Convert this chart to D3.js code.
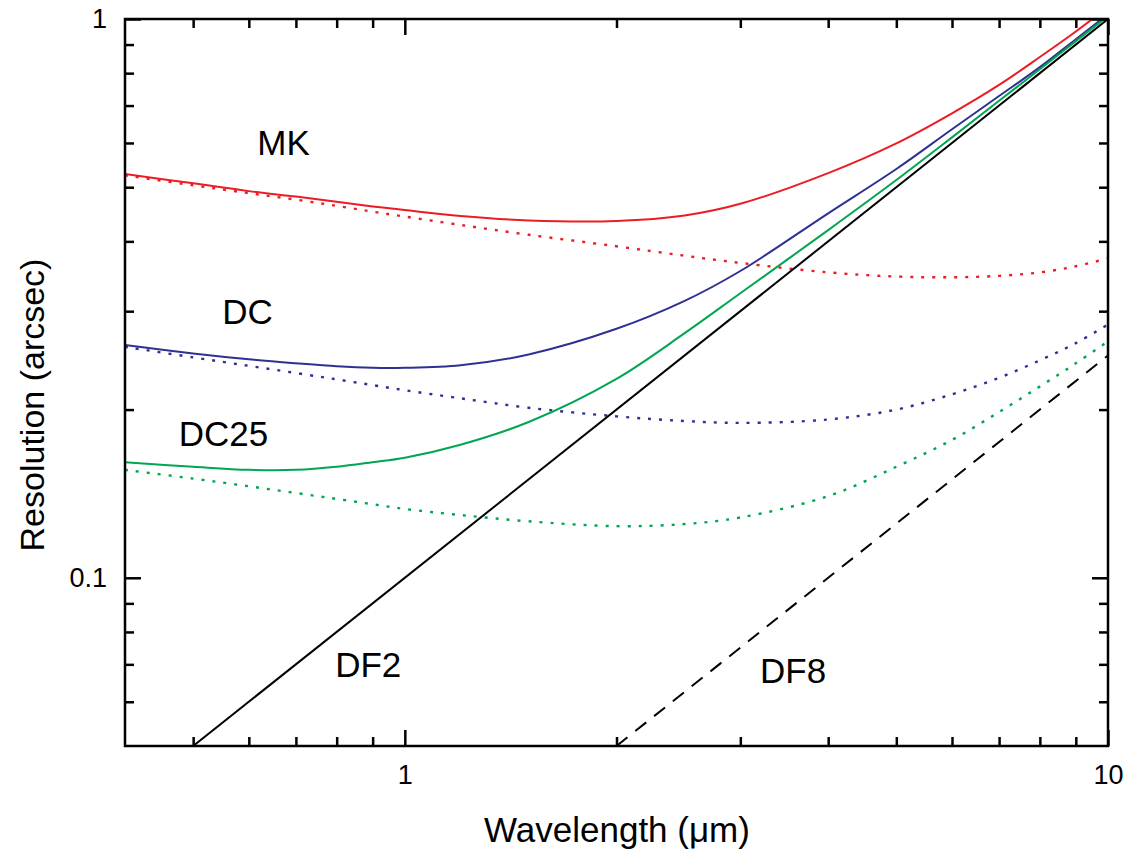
<!DOCTYPE html>
<html>
<head>
<meta charset="utf-8">
<script src="https://cdn.jsdelivr.net/npm/d3@7"></script>
<style>
  html, body { margin: 0; padding: 0; background: #fff; }
  svg { display: block; font-family: "Liberation Sans", Arial, Helvetica, sans-serif; }
</style>
</head>
<body>
<svg id="chart" width="1129" height="856"></svg>
<script>
// ---- data ----
const wavelengths = [0.4, 0.5, 0.6, 0.7, 0.8, 0.9, 1, 1.2, 1.5, 2, 2.5, 3, 4, 5, 6, 7, 8, 9, 10];
const mkTotal   = [0.528, 0.508, 0.492, 0.481, 0.471, 0.462, 0.455, 0.444, 0.436, 0.435, 0.445, 0.467, 0.530, 0.599, 0.678, 0.762, 0.855, 0.950, 1.050];
const mkSeeing  = [0.525, 0.504, 0.488, 0.475, 0.463, 0.452, 0.443, 0.428, 0.411, 0.392, 0.377, 0.366, 0.352, 0.346, 0.345, 0.347, 0.352, 0.361, 0.373];
const dcTotal   = [0.261, 0.252, 0.246, 0.242, 0.239, 0.2375, 0.2375, 0.240, 0.251, 0.279, 0.313, 0.354, 0.449, 0.539, 0.635, 0.728, 0.820, 0.920, 1.020];
const dcSeeing  = [0.259, 0.248, 0.2395, 0.2325, 0.2265, 0.2212, 0.2166, 0.2095, 0.2015, 0.1945, 0.1908, 0.1893, 0.192, 0.200, 0.213, 0.228, 0.245, 0.263, 0.284];
const dc25Total = [0.161, 0.158, 0.156, 0.156, 0.158, 0.161, 0.164, 0.173, 0.190, 0.227, 0.274, 0.323, 0.419, 0.515, 0.614, 0.714, 0.813, 0.913, 1.012];
const dc25Seeing= [0.156, 0.1505, 0.1458, 0.1418, 0.1384, 0.1354, 0.1328, 0.1295, 0.1262, 0.1237, 0.1248, 0.1282, 0.140, 0.158, 0.1765, 0.198, 0.220, 0.242, 0.265];
const df2Lambda = [0.5, 10];
const df2Values = [0.05, 1.0];
const df8Lambda = [2, 10];
const df8Values = [0.05, 0.25];

const xMajorTicks = [1, 10];
const xMinorTicks = [0.5, 0.6, 0.7, 0.8, 0.9, 2, 3, 4, 5, 6, 7, 8, 9];
const yMajorTicks = [0.1, 1];
const yMinorTicks = [0.06, 0.07, 0.08, 0.09, 0.2, 0.3, 0.4, 0.5, 0.6, 0.7, 0.8, 0.9];

const curveLabels = [
  {text: "MK",   lam: 0.617, val: 0.571},
  {text: "DC",   lam: 0.550, val: 0.2847},
  {text: "DC25", lam: 0.477, val: 0.1722},
  {text: "DF2",  lam: 0.796, val: 0.0665},
  {text: "DF8",  lam: 3.20,  val: 0.0649}
];

// ---- layout ----
const L = 125, R = 1108, T = 19, B = 746;
const svg = d3.select("#chart");
const x = d3.scaleLog().domain([0.4, 10]).range([L, R]);
const y = d3.scaleLog().domain([0.05, 1]).range([B, T]);

svg.append("defs").append("clipPath").attr("id", "plotclip")
  .append("rect").attr("x", L).attr("y", T).attr("width", R - L).attr("height", B - T);

const plot = svg.append("g").attr("clip-path", "url(#plotclip)");
const line = d3.line().x(d => x(d[0])).y(d => y(d[1])).curve(d3.curveCatmullRom.alpha(0.5));
const zip = (a, b) => a.map((v, i) => [v, b[i]]);

const red = "#ec1c24", blue = "#2e3192", green = "#00a651";
const dots = "3,8";
const series = [
  {vals: mkSeeing,   color: red,   dash: dots},
  {vals: dcSeeing,   color: blue,  dash: dots},
  {vals: dc25Seeing, color: green, dash: dots},
  {vals: mkTotal,    color: red,   dash: null},
  {vals: dcTotal,    color: blue,  dash: null},
  {vals: dc25Total,  color: green, dash: null}
];
series.forEach(s => {
  plot.append("path").datum(zip(wavelengths, s.vals))
    .attr("d", line).attr("fill", "none")
    .attr("stroke", s.color).attr("stroke-width", s.dash ? 2.4 : 2)
    .attr("stroke-dasharray", s.dash);
});
plot.append("path").datum(zip(df8Lambda, df8Values)).attr("d", line)
  .attr("fill", "none").attr("stroke", "#000").attr("stroke-width", 2)
  .attr("stroke-dasharray", "14,10");
plot.append("path").datum(zip(df2Lambda, df2Values)).attr("d", line)
  .attr("fill", "none").attr("stroke", "#000").attr("stroke-width", 2);

// ---- axes (ticks inward on all four sides) ----
function styleAxis(g) {
  g.select(".domain").remove();
  g.selectAll(".tick line").attr("stroke", "#000").attr("stroke-width", 2.5);
  g.selectAll(".tick text").attr("fill", "#000").style("font-size", "27px")
    .style("font-family", "'Liberation Sans', Arial, sans-serif");
}
const fmt = d => d3.format("~g")(d);
svg.append("g").attr("transform", `translate(0,${B})`)
  .call(d3.axisBottom(x).tickValues(xMajorTicks).tickSize(-16).tickPadding(19).tickFormat(fmt)).call(styleAxis);
svg.append("g").attr("transform", `translate(0,${B})`)
  .call(d3.axisBottom(x).tickValues(xMinorTicks).tickSize(-9).tickFormat("")).call(styleAxis);
svg.append("g").attr("transform", `translate(0,${T})`)
  .call(d3.axisTop(x).tickValues(xMajorTicks).tickSize(-16).tickFormat("")).call(styleAxis);
svg.append("g").attr("transform", `translate(0,${T})`)
  .call(d3.axisTop(x).tickValues(xMinorTicks).tickSize(-9).tickFormat("")).call(styleAxis);
svg.append("g").attr("transform", `translate(${L},0)`)
  .call(d3.axisLeft(y).tickValues(yMajorTicks).tickSize(-16).tickPadding(18).tickFormat(fmt)).call(styleAxis);
svg.append("g").attr("transform", `translate(${L},0)`)
  .call(d3.axisLeft(y).tickValues(yMinorTicks).tickSize(-9).tickFormat("")).call(styleAxis);
svg.append("g").attr("transform", `translate(${R},0)`)
  .call(d3.axisRight(y).tickValues(yMajorTicks).tickSize(-16).tickFormat("")).call(styleAxis);
svg.append("g").attr("transform", `translate(${R},0)`)
  .call(d3.axisRight(y).tickValues(yMinorTicks).tickSize(-9).tickFormat("")).call(styleAxis);

svg.append("rect").attr("x", L).attr("y", T).attr("width", R - L).attr("height", B - T)
  .attr("fill", "none").attr("stroke", "#000").attr("stroke-width", 2.5);

// ---- labels ----
svg.selectAll(".clabel").data(curveLabels).join("text").attr("class", "clabel")
  .attr("x", d => x(d.lam)).attr("y", d => y(d.val))
  .style("font-size", "35px").attr("fill", "#000").text(d => d.text);

svg.append("text").attr("x", 617).attr("y", 842).attr("text-anchor", "middle")
  .style("font-size", "35px").text("Wavelength (μm)");
svg.append("text").attr("transform", `translate(44,405) rotate(-90)`)
  .attr("text-anchor", "middle").style("font-size", "34px").text("Resolution (arcsec)");
</script>
</body>
</html>
